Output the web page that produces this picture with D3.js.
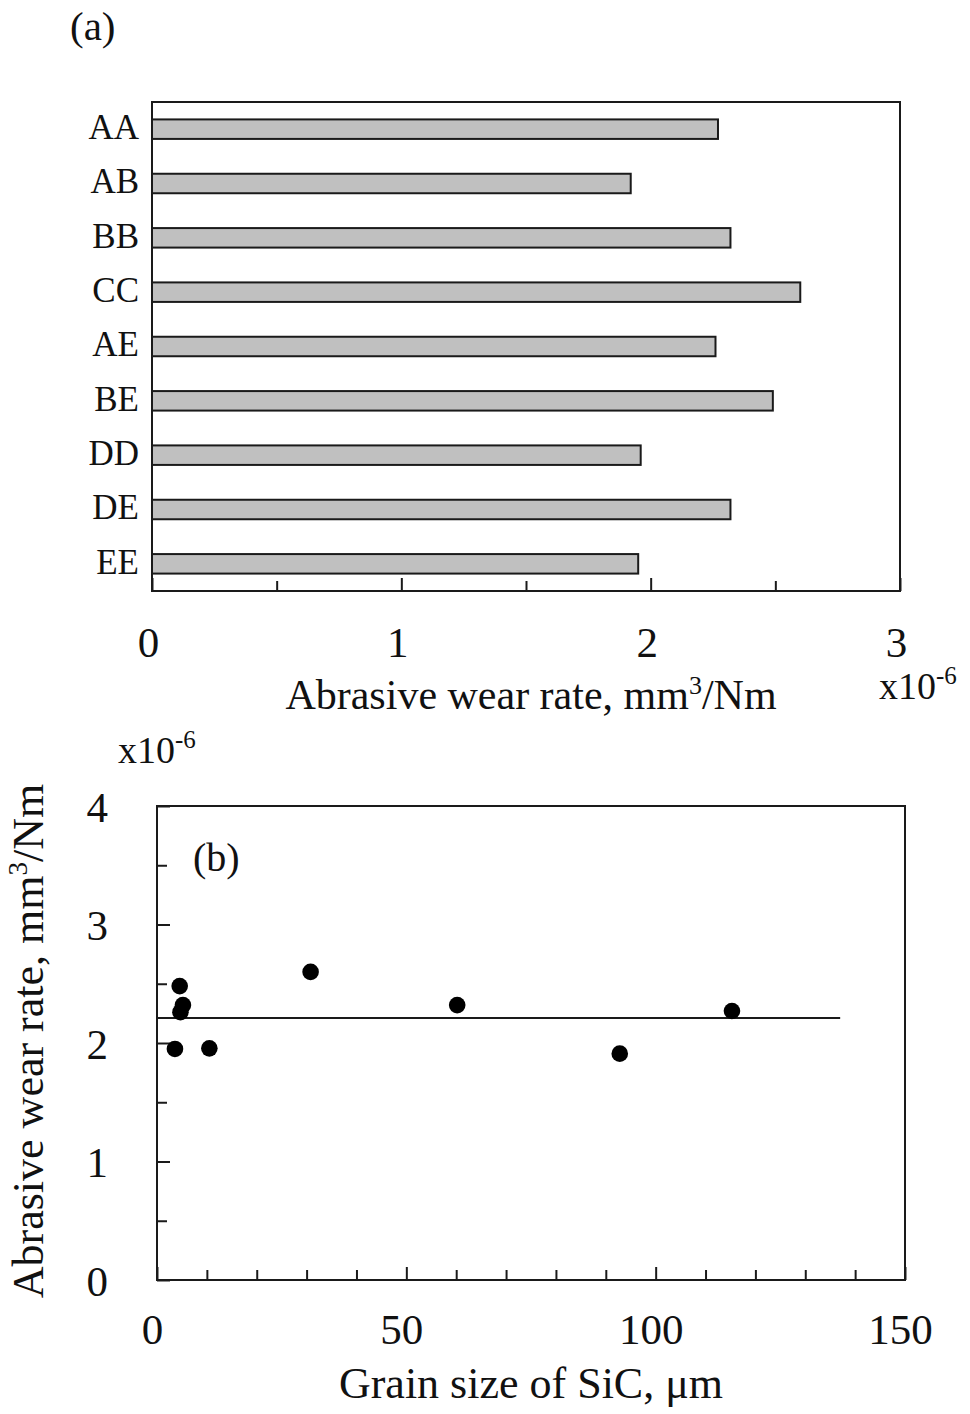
<!DOCTYPE html>
<html>
<head>
<meta charset="utf-8">
<script src="https://cdn.jsdelivr.net/npm/d3@7"></script>
<style>
body { margin: 0; background: #fff; }
svg text { font-family: "Liberation Serif", "Times New Roman", serif; fill: #111; }
</style>
</head>
<body>
<svg id="fig" width="970" height="1414"></svg>
<script>
// (a) wear rate per material, x10^-6 mm3/Nm
const categories = ['AA', 'AB', 'BB', 'CC', 'AE', 'BE', 'DD', 'DE', 'EE']
const wearRates = [2.27, 1.92, 2.32, 2.60, 2.26, 2.49, 1.96, 2.32, 1.95]
const xTicksA = [0, 0.5, 1, 1.5, 2, 2.5, 3]

// (b) wear rate vs grain size of SiC
const grainSizes = [4.55, 5.2, 4.7, 3.6, 10.5, 30.8, 60.2, 92.8, 115.3]
const grainWear = [2.48, 2.32, 2.26, 1.95, 1.955, 2.60, 2.32, 1.91, 2.27]
const meanLine = [[0, 2.21], [137, 2.21]]
const xTicksB = [0, 10, 20, 30, 40, 50, 60, 70, 80, 90, 100, 110, 120, 130, 140, 150]
const yTicksB = [0, 0.5, 1, 1.5, 2, 2.5, 3, 3.5, 4]

const svg = d3.select('#fig')
const ink = '#1a1a1a'

// ---------- panel (a) ----------
const xa = d3.scaleLinear().domain([0, 3]).range([152, 900])
const ya = d3.scaleBand().domain(categories).range([102, 591])
const barH = 19.5

svg.append('rect')
    .attr('x', xa(0)).attr('y', 102)
    .attr('width', xa(3) - xa(0)).attr('height', 591 - 102)
    .attr('fill', 'none').attr('stroke', ink).attr('stroke-width', 2)

svg.append('g').selectAll('rect.bar')
    .data(categories)
    .join('rect')
    .attr('class', 'bar')
    .attr('x', xa(0))
    .attr('y', d => ya(d) + (ya.bandwidth() - barH) / 2)
    .attr('width', (d, i) => xa(wearRates[i]) - xa(0))
    .attr('height', barH)
    .attr('fill', '#c0c0c0')
    .attr('stroke', ink)
    .attr('stroke-width', 2)

const axA = svg.append('g')
    .attr('transform', 'translate(0,591)')
    .call(d3.axisBottom(xa).tickValues(xTicksA).tickSize(-10)
        .tickFormat(d => Number.isInteger(d) ? d : ''))
axA.select('.domain').remove()
axA.selectAll('.tick line')
    .attr('stroke', ink).attr('stroke-width', 2)
    .attr('y2', d => Number.isInteger(d) ? -13 : -10)
axA.selectAll('.tick text')
    .attr('y', 66).attr('dy', 0).attr('x', -4)
    .attr('font-size', 43).attr('fill', '#111')

const cat = svg.append('g')
    .attr('transform', 'translate(152,0)')
    .call(d3.axisLeft(ya).tickSize(0))
cat.select('.domain').remove()
cat.selectAll('.tick text')
    .attr('x', -13).attr('dy', '0.28em')
    .attr('font-size', 35).attr('fill', '#111')

svg.append('text')
    .attr('x', 70).attr('y', 40)
    .attr('font-size', 41)
    .text('(a)')

const titleA = svg.append('text')
    .attr('x', 531).attr('y', 709)
    .attr('text-anchor', 'middle')
    .attr('font-size', 42)
titleA.append('tspan').text('Abrasive  wear rate, mm')
titleA.append('tspan').attr('font-size', 26).attr('dy', -15).text('3')
titleA.append('tspan').attr('dy', 15).text('/Nm')

const expA = svg.append('text')
    .attr('x', 879).attr('y', 699)
    .attr('font-size', 38)
expA.append('tspan').text('x10')
expA.append('tspan').attr('font-size', 25).attr('dy', -15).text('-6')

// ---------- panel (b) ----------
const xb = d3.scaleLinear().domain([0, 150]).range([157, 905])
const yb = d3.scaleLinear().domain([0, 4]).range([1280, 806])

svg.append('rect')
    .attr('x', xb(0)).attr('y', yb(4))
    .attr('width', xb(150) - xb(0)).attr('height', yb(0) - yb(4))
    .attr('fill', 'none').attr('stroke', ink).attr('stroke-width', 2)

const axBx = svg.append('g')
    .attr('transform', `translate(0,${yb(0)})`)
    .call(d3.axisBottom(xb).tickValues(xTicksB).tickSize(-10)
        .tickFormat(d => d % 50 === 0 ? d : ''))
axBx.select('.domain').remove()
axBx.selectAll('.tick line')
    .attr('stroke', ink).attr('stroke-width', 2)
    .attr('y2', d => d % 50 === 0 ? -13 : -10)
axBx.selectAll('.tick text')
    .attr('y', 64).attr('dy', 0).attr('x', -5)
    .attr('font-size', 43).attr('fill', '#111')

const axBy = svg.append('g')
    .attr('transform', `translate(${xb(0)},0)`)
    .call(d3.axisLeft(yb).tickValues(yTicksB).tickSize(-10)
        .tickFormat(d => Number.isInteger(d) ? d : ''))
axBy.select('.domain').remove()
axBy.selectAll('.tick line')
    .attr('stroke', ink).attr('stroke-width', 2)
    .attr('x2', d => Number.isInteger(d) ? 13 : 10)
axBy.selectAll('.tick text')
    .attr('x', -49).attr('dy', '0.35em')
    .attr('font-size', 43).attr('fill', '#111')

svg.append('path')
    .datum(meanLine)
    .attr('d', d3.line().x(d => xb(d[0])).y(d => yb(d[1])))
    .attr('fill', 'none')
    .attr('stroke', ink)
    .attr('stroke-width', 2)

svg.append('g').selectAll('circle.point')
    .data(grainSizes)
    .join('circle')
    .attr('class', 'point')
    .attr('cx', d => xb(d))
    .attr('cy', (d, i) => yb(grainWear[i]))
    .attr('r', 8.3)
    .attr('fill', '#000')

svg.append('text')
    .attr('x', 193).attr('y', 871)
    .attr('font-size', 40)
    .text('(b)')

const expB = svg.append('text')
    .attr('x', 118).attr('y', 763)
    .attr('font-size', 38)
expB.append('tspan').text('x10')
expB.append('tspan').attr('font-size', 25).attr('dy', -15).text('-6')

svg.append('text')
    .attr('x', 531).attr('y', 1398)
    .attr('text-anchor', 'middle')
    .attr('font-size', 44)
    .text('Grain size of SiC, \u03bcm')

const titleB = svg.append('text')
    .attr('transform', 'translate(43,1041) rotate(-90)')
    .attr('text-anchor', 'middle')
    .attr('font-size', 44)
titleB.append('tspan').text('Abrasive  wear rate, mm')
titleB.append('tspan').attr('font-size', 27).attr('dy', -16).text('3')
titleB.append('tspan').attr('dy', 16).text('/Nm')
</script>
</body>
</html>
